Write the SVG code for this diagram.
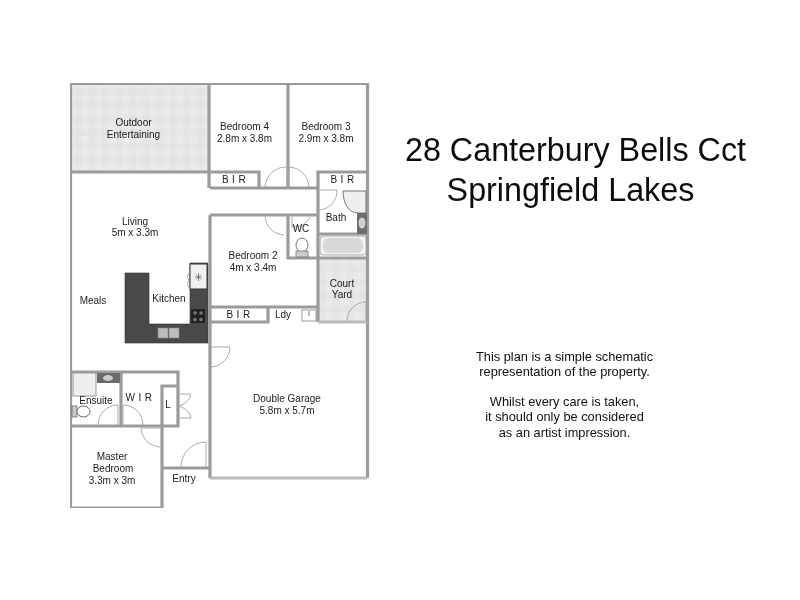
<svg xmlns="http://www.w3.org/2000/svg" width="800" height="600" viewBox="0 0 800 600">
<style>
.w{fill:none;stroke:#9b9b9b;stroke-width:3.200}
.lw{fill:none;stroke:#bbb;stroke-width:3}
.d{fill:none;stroke:#ababab;stroke-width:1}
.k{fill:#4a4a4a;stroke:#333;stroke-width:.6}
text{font-family:"Liberation Sans",Arial,sans-serif;font-size:10px;fill:#222;text-anchor:middle}
.t{font-size:32.300px;fill:#111}
.n{font-size:12.800px;fill:#111}
.s{letter-spacing:.4px}
</style>
<defs>
<pattern id="tile" width="13.600" height="13.600" patternUnits="userSpaceOnUse">
<rect width="13.600" height="13.600" fill="#e6e6e6"/>
<rect width="6.800" height="6.800" fill="#eaeaea"/>
<rect x="6.800" y="6.800" width="6.800" height="6.800" fill="#e3e3e3"/>
</pattern>
<filter id="soft" x="0" y="0" width="100%" height="100%"><feGaussianBlur stdDeviation="0.4"/></filter>
</defs>
<rect width="800" height="600" fill="#fff"/>
<g filter="url(#soft)">
<g id="floors">
<rect x="71" y="84" width="138" height="88" fill="url(#tile)"/>
<rect x="318" y="258" width="49" height="64" fill="url(#tile)"/>
</g>
<g id="kitchen">
<path class="k" d="M125 273H149V324H190V263H208V343H125Z"/>
<rect x="190" y="264" width="17" height="25" fill="#f0f0f0" stroke="#333"/>
<path d="M198.500 273v8M195 277h7M196 274.500l5 5M201 274.500l-5 5" stroke="#666" stroke-width=".7"/>
<rect x="191" y="309" width="14" height="14" fill="#222"/>
<circle cx="195" cy="313" r="1.800" fill="#777"/><circle cx="201" cy="313" r="1.800" fill="#777"/><circle cx="195" cy="319.500" r="1.800" fill="#777"/><circle cx="201" cy="319.500" r="1.800" fill="#777"/>
<rect x="158" y="328" width="10" height="10" fill="#bdbdbd" stroke="#888" stroke-width=".6"/>
<rect x="169" y="328" width="10" height="10" fill="#bdbdbd" stroke="#888" stroke-width=".6"/>
<path class="d" d="M189 273l-2 4 2 3M189 280l-2 4 2 3"/>
</g>
<g id="walls">
<path class="w" d="M70.500 83.500H367.500V478M70.500 83.500V508H162V426M70.500 172H209M209 83.500V188M288 83.500V188"/>
<path class="w" d="M210 188H259V172H210M318 188V172H367M210 188H318M318 188V322"/>
<path class="w" d="M210 215H318M210 215V478M210 307H318M210 322H268V307M288 215V258H318M318 258H367M318 234H367"/>
<path class="w" d="M70.500 372H178V426H70.500M121 372V426M162 426V386H178M162 468H210"/>
<path class="lw" d="M210 478H367M318 322H367"/>
</g>
<g id="fixtures">
<path d="M343 191H366V213H358C349 213 343 204 343 191Z" fill="#efefef" stroke="#777"/>
<rect x="357" y="213" width="10" height="21" fill="#6d6d6d"/>
<ellipse cx="362" cy="223" rx="3.500" ry="5.500" fill="#d0d0d0"/>
<rect x="320" y="236" width="46" height="19" rx="3" fill="#f2f2f2" stroke="#aaa"/>
<rect x="323" y="238" width="40" height="15" rx="6" fill="#d8d8d8"/>
<ellipse cx="302" cy="245" rx="6" ry="7" fill="#fff" stroke="#777"/>
<rect x="296" y="251" width="12" height="6" fill="#ccc" stroke="#777" stroke-width=".8"/>
<rect x="73" y="373" width="23" height="23" fill="#eee" stroke="#999"/>
<rect x="97" y="373" width="23" height="10" fill="#6a6a6a"/>
<ellipse cx="108" cy="378" rx="5" ry="3" fill="#ccc"/>
<rect x="72" y="406" width="5" height="11" fill="#ccc" stroke="#666" stroke-width=".8"/>
<ellipse cx="83.500" cy="411.500" rx="6.500" ry="5.500" fill="#fff" stroke="#666"/>
<rect x="302" y="310" width="14" height="11" fill="#fff" stroke="#999"/>
<path d="M309 311v5" stroke="#777"/>
</g>
<g id="doors">
<path class="d" d="M265 187A21 21 0 0 1 287 167V187M289 187V167A21 21 0 0 1 309 187"/>
<path class="d" d="M265 216A20 20 0 0 0 284 235M292 217V227A18 18 0 0 0 310 217"/>
<path class="d" d="M319 190H337A19 19 0 0 1 319 210"/>
<path class="d" d="M347 321A19 19 0 0 1 366 302V321"/>
<path class="d" d="M211 347H230A20 20 0 0 1 211 367"/>
<path class="d" d="M98 425A20 20 0 0 1 118 405V425"/>
<path class="d" d="M123 425V405A20 20 0 0 1 143 425"/>
<path class="d" d="M141 428A20 20 0 0 0 161 447M141 428H161"/>
<path class="d" d="M181 467A25 25 0 0 1 206 442V467"/>
<path class="d" d="M179 394H191Q190 402 179 406Q190 410 191 418H179"/>
</g>
<g id="labels">
<text x="133.500" y="126">Outdoor</text><text x="133.500" y="138">Entertaining</text>
<text x="244.500" y="130">Bedroom 4</text><text x="244.500" y="142">2.8m x 3.8m</text>
<text x="326" y="130">Bedroom 3</text><text x="326" y="142">2.9m x 3.8m</text>
<text class="s" x="234" y="183">B I R</text>
<text class="s" x="342.500" y="183">B I R</text>
<text x="135" y="225">Living</text><text x="135" y="236">5m x 3.3m</text>
<text x="253" y="259">Bedroom 2</text><text x="253" y="271">4m x 3.4m</text>
<text x="301" y="232">WC</text>
<text x="336" y="221">Bath</text>
<text x="342" y="287">Court</text><text x="342" y="298">Yard</text>
<text class="s" x="238.500" y="318">B I R</text>
<text x="283" y="318">Ldy</text>
<text x="169" y="302">Kitchen</text>
<text x="93" y="304">Meals</text>
<text x="96" y="404">Ensuite</text>
<text class="s" x="139" y="401">W I R</text>
<text x="168" y="408">L</text>
<text x="287" y="402">Double Garage</text><text x="287" y="414">5.8m x 5.7m</text>
<text x="112" y="460">Master</text><text x="113" y="472">Bedroom</text><text x="112" y="484">3.3m x 3m</text>
<text x="184" y="482">Entry</text>
<text class="t" x="575.500" y="161">28 Canterbury Bells Cct</text>
<text class="t" x="570.500" y="201">Springfield Lakes</text>
<text class="n" x="564.500" y="361">This plan is a simple schematic</text>
<text class="n" x="564.500" y="376">representation of the property.</text>
<text class="n" x="564.500" y="406">Whilst every care is taken,</text>
<text class="n" x="564.500" y="421">it should only be considered</text>
<text class="n" x="564.500" y="437">as an artist impression.</text>
</g>
</g>
</svg>
